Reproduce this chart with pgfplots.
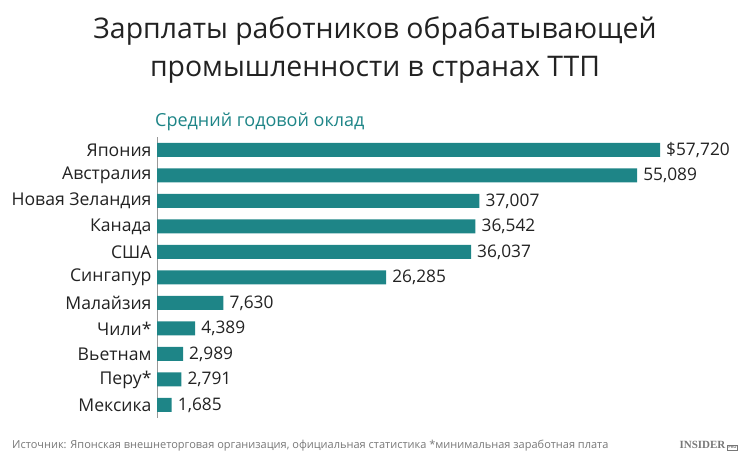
\documentclass[border=0pt]{standalone}
\usepackage{fontspec}
\setmainfont{Open Sans}
\newfontfamily\logofont{Liberation Serif}
\usepackage{pgfplots}
\pgfplotsset{compat=1.18}
\definecolor{barc}{HTML}{1E8587}
\definecolor{txt}{HTML}{222222}
\definecolor{foot}{HTML}{777777}
\begin{document}
\begin{tikzpicture}
\path[use as bounding box] (0pt,0pt) rectangle (750pt,463pt);
\node[font=\fontsize{28.4}{38}\selectfont, align=center, text=txt] at (375pt,413pt) {Зарплаты работников обрабатывающей\\промышленности в странах ТТП};
\node[anchor=base west, text=barc, font=\fontsize{18}{20}\selectfont, inner sep=0] at (155pt,336pt) {Средний годовой оклад};
\begin{axis}[
  at={(157pt,325.75pt)}, anchor=north west,
  scale only axis, width=503pt, height=280.5pt,
  xmin=0, xmax=57720, ymin=-0.5, ymax=10.5,
  y dir=reverse,
  hide x axis,
  axis y line*=left,
  y axis line style={draw=gray!80, line width=1pt, -},
  ytick={0,...,10},
  yticklabels={Япония,Австралия,Новая Зеландия,Канада,США,Сингапур,Малайзия,Чили*,Вьетнам,Перу*,Мексика},
  yticklabel style={font=\fontsize{17.6}{20}\selectfont, text=txt, xshift=-2pt},
  major tick length=0pt,
  xbar, bar width=14pt,
  clip=false,
  nodes near coords,
  point meta=explicit symbolic,
  nodes near coords style={font=\fontsize{17.3}{20}\selectfont, text=txt, anchor=west, inner sep=2pt, xshift=4pt},
]
\addplot[fill=barc, draw=none] table[meta=lab] {
x y lab
57720 0 \$57,720
55089 1 55,089
37007 2 37,007
36542 3 36,542
36037 4 36,037
26285 5 26,285
7630 6 7,630
4389 7 4,389
2989 8 2,989
2791 9 2,791
1685 10 1,685
};
\end{axis}
\node[anchor=base west, text=foot, font=\fontsize{11}{13}\selectfont, inner sep=0] at (12pt,14pt) {Источник: Японская внешнеторговая организация, официальная статистика *минимальная заработная плата};
\node[anchor=base east, text=foot, inner sep=0] at (738pt,14pt) {{\logofont\bfseries\fontsize{11}{13}\selectfont INSIDER}\,{\setlength{\fboxsep}{0.8pt}\fbox{\fontsize{4}{5}\selectfont\bfseries PRO}}};
\end{tikzpicture}
\end{document}
